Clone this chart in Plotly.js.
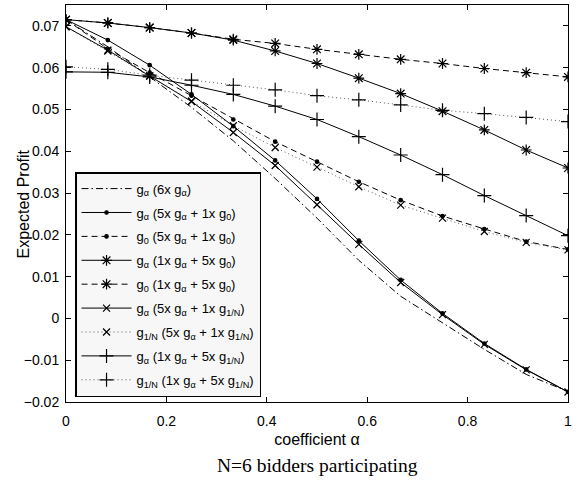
<!DOCTYPE html>
<html>
<head>
<meta charset="utf-8">
<script src="https://cdn.plot.ly/plotly-3.0.1.min.js"></script>
<style>html,body{margin:0;padding:0;background:#fff;}#chart{width:586px;height:481px;}</style>
</head>
<body>
<div id="chart"></div>
<script>
const alpha = [0, 0.0833, 0.1667, 0.25, 0.3333, 0.4167, 0.5, 0.5833, 0.6667, 0.75, 0.8333, 0.9167, 1];

const gA_6gA      = [0.0715, 0.0650, 0.0578, 0.0505, 0.0425, 0.0335, 0.0240, 0.0139, 0.0053, -0.0011, -0.0074, -0.0134, -0.0175];
const gA_5gA1g0   = [0.0715, 0.0666, 0.0606, 0.0536, 0.0460, 0.0378, 0.0286, 0.0186, 0.0092, 0.0012, -0.0060, -0.0122, -0.0176];
const g0_5gA1g0   = [0.0715, 0.0645, 0.0588, 0.0533, 0.0476, 0.0423, 0.0375, 0.0327, 0.0283, 0.0245, 0.0214, 0.0184, 0.0165];
const gA_1gA5g0   = [0.0715, 0.0707, 0.0696, 0.0683, 0.0666, 0.0640, 0.0610, 0.0575, 0.0538, 0.0496, 0.0451, 0.0403, 0.0360];
const g0_1gA5g0   = [0.0715, 0.0707, 0.0696, 0.0683, 0.0668, 0.0658, 0.0644, 0.0632, 0.0620, 0.0610, 0.0598, 0.0588, 0.0578];
const gA_5gA1gN   = [0.0698, 0.0642, 0.0580, 0.0519, 0.0445, 0.0366, 0.0272, 0.0177, 0.0086, 0.0009, -0.0062, -0.0123, -0.0176];
const gN_5gA1gN   = [0.0698, 0.0640, 0.0580, 0.0520, 0.0461, 0.0409, 0.0362, 0.0315, 0.0271, 0.0240, 0.0208, 0.0182, 0.0164];
const gA_1gA5gN   = [0.0590, 0.0589, 0.0578, 0.0558, 0.0536, 0.0508, 0.0476, 0.0435, 0.0391, 0.0344, 0.0294, 0.0246, 0.0198];
const gN_1gA5gN   = [0.0602, 0.0596, 0.0582, 0.0570, 0.0558, 0.0547, 0.0533, 0.0523, 0.0511, 0.0498, 0.0490, 0.0481, 0.0471];

const names = [
  'g<sub>α</sub> (6x g<sub>α</sub>)',
  'g<sub>α</sub> (5x g<sub>α</sub> + 1x g<sub>0</sub>)',
  'g<sub>0</sub> (5x g<sub>α</sub> + 1x g<sub>0</sub>)',
  'g<sub>α</sub> (1x g<sub>α</sub> + 5x g<sub>0</sub>)',
  'g<sub>0</sub> (1x g<sub>α</sub> + 5x g<sub>0</sub>)',
  'g<sub>α</sub> (5x g<sub>α</sub> + 1x g<sub>1/N</sub>)',
  'g<sub>1/N</sub> (5x g<sub>α</sub> + 1x g<sub>1/N</sub>)',
  'g<sub>α</sub> (1x g<sub>α</sub> + 5x g<sub>1/N</sub>)',
  'g<sub>1/N</sub> (1x g<sub>α</sub> + 5x g<sub>1/N</sub>)'
];
const series = [gA_6gA, gA_5gA1g0, g0_5gA1g0, gA_1gA5g0, g0_1gA5g0, gA_5gA1gN, gN_5gA1gN, gA_1gA5gN, gN_1gA5gN];

const DASH = '6px,4px', DASHDOT = '7px,3px,1.5px,3px', DOT = '1px,3px';
const styles = [
  {dash: DASHDOT, sym: null},
  {dash: 'solid', sym: 'circle', size: 3.5},
  {dash: DASH, sym: 'circle', size: 3.5},
  {dash: 'solid', sym: 'asterisk-open', size: 9},
  {dash: DASH, sym: 'asterisk-open', size: 9},
  {dash: 'solid', sym: 'x-thin-open', size: 7},
  {dash: DOT, sym: 'x-thin-open', size: 7},
  {dash: 'solid', sym: 'cross-thin-open', size: 10},
  {dash: DOT, sym: 'cross-thin-open', size: 10}
];

const traces = series.map((ys, i) => {
  const st = styles[i];
  const t = {
    x: alpha, y: ys, name: names[i], type: 'scatter',
    legendgroup: 'g' + i,
    mode: st.sym ? 'lines+markers' : 'lines',
    line: {color: i === 6 || i === 8 ? '#555' : '#000', width: 1, dash: st.dash}
  };
  if (st.sym) t.marker = {symbol: st.sym, size: st.size, color: '#000', line: {color: '#000', width: 1.2}};
  return t;
});

const font = 'Liberation Sans, Arial, Helvetica, sans-serif';
const layout = {
  width: 586, height: 481,
  margin: {l: 66, r: 18, t: 5, b: 79},
  paper_bgcolor: '#fff', plot_bgcolor: '#fff',
  font: {family: font, size: 14, color: '#000'},
  showlegend: true,
  legend: {
    x: 0.018, y: 0.579, xanchor: 'left', yanchor: 'top',
    bgcolor: '#f7f7f7', bordercolor: '#000', borderwidth: 1.5,
    font: {family: font, size: 13, color: '#000'},
    traceorder: 'grouped', tracegroupgap: 4, itemwidth: 50
  },
  xaxis: {
    range: [0, 1], tickvals: [0, 0.2, 0.4, 0.6, 0.8, 1], ticktext: ['0', '0.2', '0.4', '0.6', '0.8', '1'],
    ticks: 'inside', ticklen: 5, tickcolor: '#000', showline: true, linecolor: '#000', linewidth: 1,
    mirror: 'allticks', showgrid: false, zeroline: false, ticklabelstandoff: 6,
    title: {text: 'coefficient α', font: {family: font, size: 16}, standoff: 6}
  },
  yaxis: {
    range: [-0.02, 0.075], tickvals: [-0.02, -0.01, 0, 0.01, 0.02, 0.03, 0.04, 0.05, 0.06, 0.07],
    ticktext: ['−0.02', '−0.01', '0', '0.01', '0.02', '0.03', '0.04', '0.05', '0.06', '0.07'],
    ticks: 'inside', ticklen: 5, tickcolor: '#000', showline: true, linecolor: '#000', linewidth: 1,
    mirror: 'allticks', showgrid: false, zeroline: false, ticklabelstandoff: 3
  },
  annotations: [{
    text: 'Expected Profit', xref: 'paper', yref: 'paper', x: -0.0837, y: 0.5,
    xanchor: 'center', yanchor: 'middle', textangle: -90, showarrow: false,
    font: {family: font, size: 16, color: '#000'}
  }, {
    text: 'N=6 bidders participating', xref: 'paper', yref: 'paper', x: 0.5, y: -0.159,
    xanchor: 'center', yanchor: 'middle', showarrow: false,
    font: {family: 'Liberation Serif, Times New Roman, serif', size: 19.5, color: '#000'}
  }]
};

Plotly.newPlot('chart', traces, layout, {staticPlot: true, displayModeBar: false});
</script>
</body>
</html>
